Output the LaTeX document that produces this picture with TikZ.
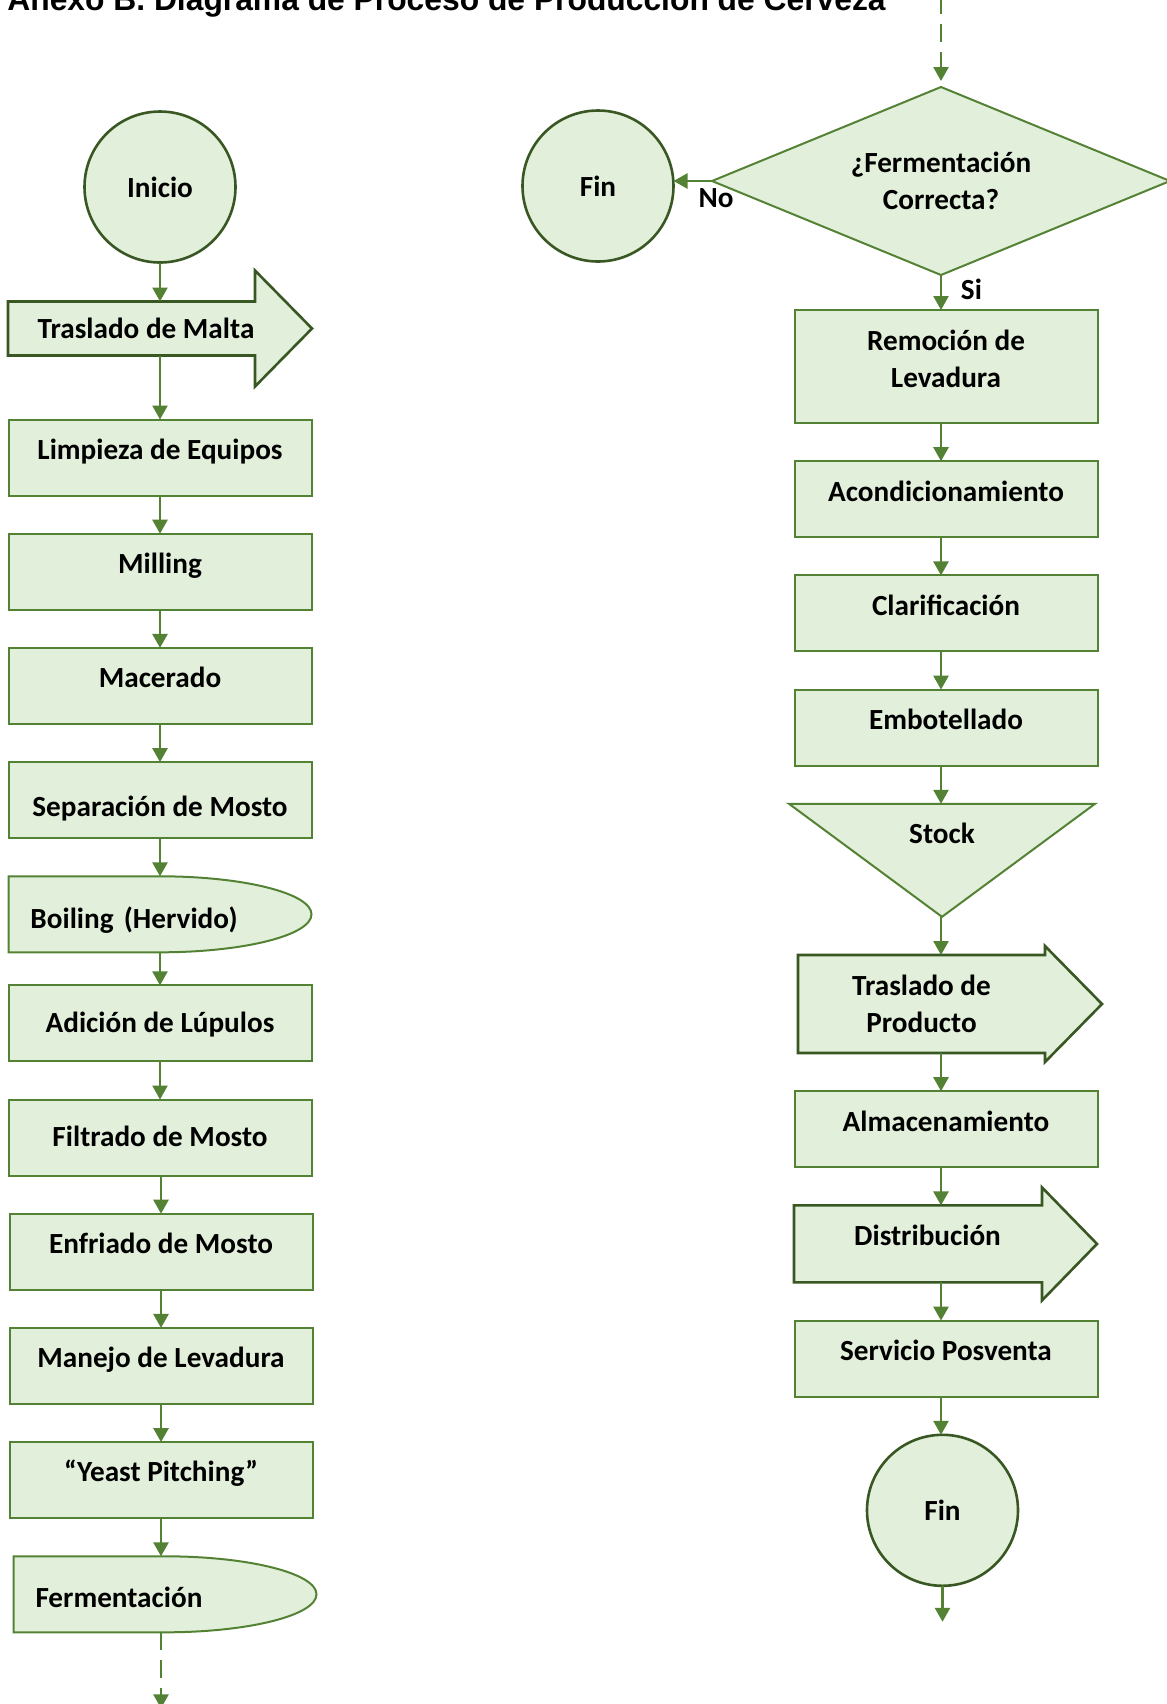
\documentclass[tikz,border=0pt]{standalone}
\usepackage{fontspec}
\setmainfont{Carlito}
\newfontfamily\titlefont{Liberation Sans}
\usepackage{tikz}
\usetikzlibrary{shapes.geometric, arrows.meta, positioning, calc, backgrounds}
\definecolor{relleno}{RGB}{226,239,218}
\definecolor{borde}{RGB}{84,130,53}
\definecolor{oscuro}{RGB}{56,87,35}
\newcommand{\fuente}{\fontsize{14.6pt}{18.5pt}\selectfont\bfseries}
\newcommand{\titulo}{\titlefont\fontsize{15.9pt}{19pt}\selectfont\bfseries}
\tikzset{
  caja/.style={rectangle, draw=borde, fill=relleno, line width=1pt, outer sep=0pt,
               minimum width=151.5pt, minimum height=38pt, align=center,
               font=\fuente, text height=11pt, text depth=9.2pt},
  centrado/.style={text height=12.5pt, text depth=3.5pt},
  circulo/.style={circle, draw=oscuro, fill=relleno, line width=1.3pt, outer sep=0pt,
                  minimum size=75.5pt, inner sep=0pt, font=\fuente},
  rombo/.style={diamond, aspect=2.44, draw=borde, fill=relleno, line width=1pt,
                outer sep=0pt, minimum width=229pt, minimum height=94pt,
                inner sep=0pt, align=center, font=\fuente},
  forma/.style={rectangle, outer sep=0pt, align=center, font=\fuente},
  demora/.style={forma, minimum width=151.5pt, minimum height=38pt,
                 text width=129.5pt, align=left, inner xsep=11pt},
  contorno/.style={draw=oscuro, fill=relleno, line width=1.3pt},
  contornofino/.style={draw=borde, fill=relleno, line width=1pt},
  flecha/.style={-{Triangle[length=7pt, width=7.5pt]}, line width=1.3pt, draw=borde},
  punteada/.style={flecha, dash pattern=on 9pt off 5pt}
}

\begin{document}
\begin{tikzpicture}[x=0.5pt, y=-0.5pt, node distance=19.1pt]
    \useasboundingbox (0,0) rectangle (1167,1704);
    \node[anchor=base west, inner sep=0pt, font=\titulo] (tit) at (7,10)
      {Anexo B. Diagrama de Proceso de Producción de Cerveza};

    % columna izquierda
    \node[circulo] (ini) at (160,187) {Inicio};
    \node[forma, minimum width=138pt, minimum height=27pt,
          below=19.5pt of ini, xshift=-7pt] (tm) {Traslado de Malta};
    \node[caja, below=32pt of tm, xshift=7pt] (lim) {Limpieza de Equipos};
    \node[caja, below=of lim] (mil) {Milling};
    \node[caja, below=of mil] (mac) {Macerado};
    \node[caja, below=of mac, text height=20pt, text depth=3.4pt] (sep) {Separación de Mosto};
    \node[demora, below=of sep, text height=18pt, text depth=3.5pt] (boi) {Boiling\hspace{0.35em}(Hervido)};
    \node[caja, centrado, below=16.5pt of boi] (adi) {Adición de Lúpulos};
    \node[caja, centrado, below=of adi] (fil) {Filtrado de Mosto};
    \node[caja, below=of fil, xshift=0.5pt] (enf) {Enfriado de Mosto};
    \node[caja, below=of enf] (man) {Manejo de Levadura};
    \node[caja, below=of man] (yea) {``Yeast Pitching''};
    \node[demora, below=of yea, text height=16.5pt, text depth=3.5pt, xshift=2pt] (fer) {Fermentación};
    \coordinate (sigue) at ($(yea |- fer.south)+(0,76)$);

    % columna derecha
    \coordinate (viene) at (941,-4);
    \node[rombo] (dia) at (941,181) {¿Fermentación\\Correcta?};
    \node[circulo] (fin1) at (598,186) {Fin};
    \node[caja, minimum height=56.5pt, text height=29pt, text depth=8.5pt,
          below=17.5pt of dia, xshift=2.5pt] (rem) {Remoción de\\Levadura};
    \node[caja, below=of rem] (aco) {Acondicionamiento};
    \node[caja, below=of aco] (cla) {Clarificación};
    \node[caja, below=of cla] (emb) {Embotellado};
    \node[forma, minimum width=153pt, minimum height=56.5pt, text height=11pt,
          text depth=27.5pt, below=of emb, xshift=-2pt] (stk) {Stock};
    \node[forma, minimum width=123.5pt, minimum height=49pt,
          below=of stk, xshift=-10.25pt] (tp) {Traslado de\\Producto};
    \node[caja, below=of tp, xshift=12.25pt] (alm) {Almacenamiento};
    \node[forma, minimum width=133.5pt, minimum height=38.5pt, text height=11pt,
          text depth=9.2pt, below=of alm, xshift=-9.25pt] (dis) {Distribución};
    \node[caja, below=of dis, xshift=9.25pt] (ser) {Servicio Posventa};
    \node[circulo, below=of ser, xshift=-1.75pt] (fin2) {Fin};
    \coordinate[below=18pt of fin2] (sale);

    % contornos de las formas especiales
    \begin{pgfonlayer}{background}
      \draw[contorno] (tm.north west) -- ($(tm.north east)+(-29,0)$) -- ++(0,-31)
        -- ($(tm.east)+(28,0)$) -- ($(tm.south east)+(-29,31)$) -- ++(0,-31)
        -- (tm.south west) -- cycle;
      \draw[contornofino] (boi.north west) -- (boi.north)
        arc[start angle=90, end angle=-90, x radius=75.75pt, y radius=19pt]
        -- (boi.south west) -- cycle;
      \draw[contornofino] (fer.north west) -- (fer.north)
        arc[start angle=90, end angle=-90, x radius=75.75pt, y radius=19pt]
        -- (fer.south west) -- cycle;
      \draw[contornofino] (stk.north west) -- (stk.north east) -- (stk.south) -- cycle;
      \draw[contorno] (tp.north west) -- (tp.north east) -- ++(0,-9)
        -- ($(tp.east)+(57,0)$) -- ($(tp.south east)+(0,9)$) -- (tp.south east)
        -- (tp.south west) -- cycle;
      \draw[contorno] (dis.north west) -- ($(dis.north east)+(-19,0)$) -- ++(0,-18)
        -- ($(dis.east)+(36,0)$) -- ($(dis.south east)+(-19,18)$) -- ++(0,-18)
        -- (dis.south west) -- cycle;
    \end{pgfonlayer}

    % conectores izquierda
    \draw[flecha] (ini) -- (ini |- tm.north);
    \draw[flecha] (tm.south -| lim) -- (lim);
    \draw[flecha] (lim) -- (mil);
    \draw[flecha] (mil) -- (mac);
    \draw[flecha] (mac) -- (sep);
    \draw[flecha] (sep) -- (boi);
    \draw[flecha] (boi) -- (adi);
    \draw[flecha] (adi) -- (fil);
    \draw[flecha] (fil.south -| enf) -- (enf);
    \draw[flecha] (enf) -- (man);
    \draw[flecha] (man) -- (yea);
    \draw[flecha] (yea) -- (yea |- fer.north);
    \draw[punteada] (yea |- fer.south) -- (sigue);

    % conectores derecha
    \draw[punteada, shorten >=3pt] (viene) -- (dia);
    \draw[flecha] (dia.west) -- (dia.west -| fin1.east)
      node[pos=0, below, xshift=2pt, font=\fuente] {No};
    \draw[flecha] (dia) -- (dia |- rem.north)
      node[pos=0.4, right, xshift=6pt, font=\fuente] {Si};
    \draw[flecha] (rem.south -| dia) -- (aco.north -| dia);
    \draw[flecha] (aco.south -| dia) -- (cla.north -| dia);
    \draw[flecha] (cla.south -| dia) -- (emb.north -| dia);
    \draw[flecha] (emb.south -| dia) -- (stk.north -| dia);
    \draw[flecha] (stk.south -| dia) -- (tp.north -| dia);
    \draw[flecha] (tp.south -| dia) -- (alm.north -| dia);
    \draw[flecha] (alm.south -| dia) -- (dis.north -| dia);
    \draw[flecha] (dis.south -| dia) -- (ser.north -| dia);
    \draw[flecha] (ser.south -| dia) -- (fin2.north -| dia);
    \draw[flecha] (fin2) -- (sale);
\end{tikzpicture}
\end{document}
